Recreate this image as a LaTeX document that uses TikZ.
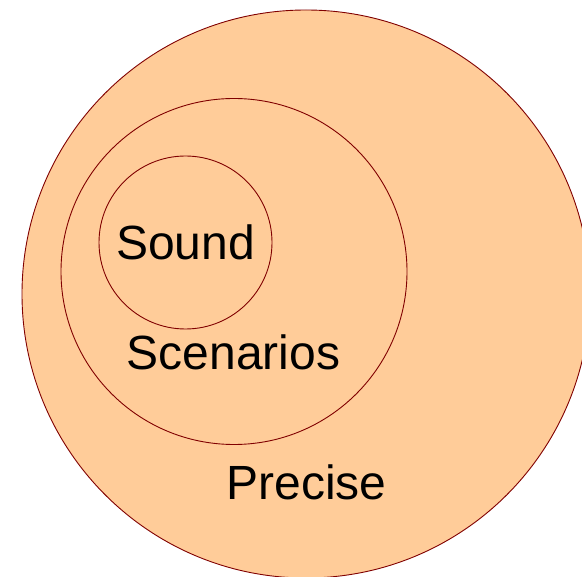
\documentclass[tikz,border=0pt]{standalone}
\usepackage{fontspec}
\setmainfont{Liberation Sans}
\definecolor{peach}{HTML}{FFCC99}
\definecolor{rim}{HTML}{800000}
\begin{document}
\begin{tikzpicture}[x=1pt,y=-1pt,
  ring/.style={draw=rim,fill=peach,line width=0.9pt},
  lbl/.style={font=\fontsize{48}{50}\selectfont,anchor=base,inner sep=0pt,text=black}]
\useasboundingbox (0,0) rectangle (582,577);
\begin{scope}
\clip (0,0) rectangle (582,577);
\path[ring] (306,294) circle[radius=284];
\end{scope}
\path[ring] (234,271.5) circle[radius=173];
\path[ring] (185.5,242.5) circle[radius=86.5];
\node[lbl] (sound) at (185.5,260) {Sound};
\node[lbl] (scen) at (233.5,370) {Scenarios};
\node[lbl] (prec) at (306.5,500) {Precise};
\end{tikzpicture}
\end{document}
